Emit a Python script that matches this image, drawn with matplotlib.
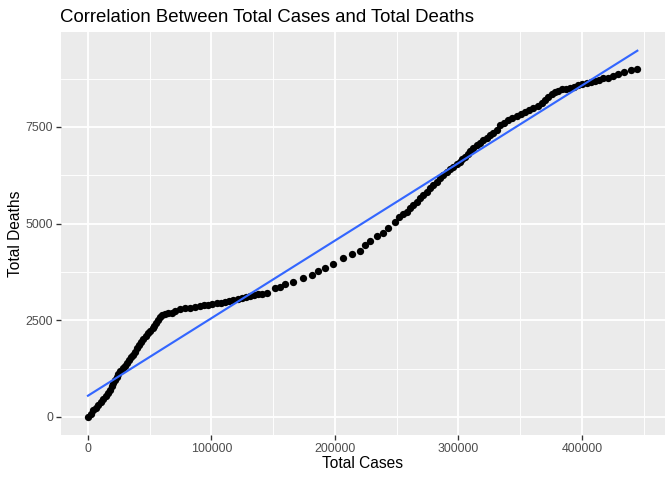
import matplotlib
matplotlib.use("Agg")
import matplotlib.pyplot as plt
import numpy as np

# Data
total_cases = [
    0, 2100, 4300, 6300, 8300, 10400, 12400, 14400, 16400, 17800, 19200, 20500, 21900, 23200,
    24500, 26300, 28100, 29700, 31300, 33000, 34600, 36300, 38100, 39700, 41300, 43000,
    44800, 46800, 48800, 50600, 52400, 53700, 55100, 56700, 58300, 60300, 62300, 65000,
    67800, 70800, 74500, 78500, 82600, 86600, 90700, 94000, 97400, 100800, 104200, 107500,
    110900, 114300, 117700, 121100, 124500, 127800, 131200, 134500, 137900, 141300, 144700,
    151400, 155500, 159500, 166300, 174300, 181100, 186500,
    191900, 198600, 206700, 213500, 220200, 224300, 228300, 233800, 239100, 243200, 248600,
    252100, 255300, 258100, 260800, 263400, 266100, 268800, 271500, 274300, 277000, 279600,
    282300, 285000, 287700, 290400, 293100, 295800, 298500, 301200, 303200, 305300, 307300,
    309300, 312000, 314700, 317400, 320100, 322800, 325500, 328300, 330900, 333600, 337000,
    340300, 343700, 347100, 350400, 353800, 357200, 360600, 364000, 367400, 370000, 372700,
    375400, 378100, 380800, 383600, 387000, 390300, 393700, 397000, 400400, 403800, 407200,
    410500, 413900, 417200, 421300, 425300, 429400, 434200, 439400, 444800,
]
total_deaths = [
    0, 90, 180, 245, 310, 385, 457, 535, 612, 705, 800, 880, 957, 1035,
    1112, 1185, 1260, 1325, 1388, 1465, 1543, 1615, 1690, 1775, 1860, 1935,
    2010, 2090, 2165, 2230, 2290, 2365, 2440, 2510, 2580, 2625, 2660, 2680,
    2700, 2745, 2785, 2810, 2830, 2850, 2870, 2890, 2905, 2920, 2940, 2960,
    2980, 3000, 3025, 3055, 3085, 3105, 3130, 3150, 3170, 3185, 3200,
    3330, 3350, 3440, 3500, 3585, 3670, 3775,
    3845, 3955, 4100, 4205, 4290, 4445, 4560, 4680, 4750, 4880, 5050,
    5160, 5240, 5310, 5400, 5480, 5570, 5655, 5740, 5825, 5915, 6000,
    6085, 6170, 6255, 6340, 6405, 6470, 6535, 6600, 6665, 6730, 6810,
    6885, 6960, 7030, 7095, 7160, 7225, 7290, 7355, 7420, 7550, 7615,
    7680, 7735, 7790, 7845, 7895, 7940, 7980, 8045, 8110, 8195, 8280,
    8345, 8410, 8440, 8470, 8495, 8515, 8545, 8580, 8600, 8625, 8655,
    8685, 8720, 8755, 8770, 8815, 8865, 8925, 8970, 8990,
]
# Linear fit line: intercept and slope
fit_intercept = 550
fit_slope = 0.02006

x_ticks = [0, 100000, 200000, 300000, 400000]
y_ticks = [0, 2500, 5000, 7500]

plt.rcParams["font.family"] = ["Liberation Sans", "DejaVu Sans"]
fs = 1.06

fig = plt.figure(figsize=(7, 5), dpi=96)
ax = fig.add_axes([60.5 / 672, 1 - 435.3 / 480, (664.8 - 60.5) / 672, (435.3 - 32.4) / 480])
ax.set_facecolor("#EBEBEB")
for s in ax.spines.values():
    s.set_visible(False)

ax.scatter(total_cases, total_deaths, s=30, color="black", linewidths=0, zorder=3)
xs = np.array([min(total_cases), max(total_cases)])
ax.plot(xs, fit_intercept + fit_slope * xs, color="#3366FF", lw=1.6, zorder=4)

xmin, xmax = min(total_cases), max(total_cases)
ymin = min(total_deaths)
ymax = max(max(total_deaths), fit_intercept + fit_slope * xmax)
xp = (xmax - xmin) * 0.05
yp = (ymax - ymin) * 0.05
ax.set_xlim(xmin - xp, xmax + xp)
ax.set_ylim(ymin - yp, ymax + yp)

ax.set_xticks(x_ticks)
ax.set_xticklabels([str(t) for t in x_ticks])
ax.set_yticks(y_ticks)
ax.set_yticklabels([str(t) for t in y_ticks])
ax.set_xticks([50000, 150000, 250000, 350000, 450000], minor=True)
ax.set_yticks([1250, 3750, 6250, 8750], minor=True)
ax.grid(which="major", color="white", lw=1.4, zorder=0)
ax.grid(which="minor", color="white", lw=0.7, zorder=0)
ax.set_axisbelow(True)
ax.tick_params(which="major", length=3.5, width=1.0, color="#333333",
               labelsize=8.8 * fs, labelcolor="#4D4D4D", pad=2)
ax.tick_params(which="minor", length=0)

ax.set_xlabel("Total Cases", fontsize=11 * fs, color="black", va="center")
ax.set_ylabel("Total Deaths", fontsize=11 * fs, color="black", va="center")
ax.xaxis.set_label_coords(0.5, (435.3 - 464) / 402.9)
ax.yaxis.set_label_coords((16 - 60.5) / 604.3, 0.5)
fig.text(60 / 672, 1 - 22 / 480, "Correlation Between Total Cases and Total Deaths",
         fontsize=13.2 * fs, color="black", ha="left", va="baseline")

fig.savefig("out.png", dpi=96)
